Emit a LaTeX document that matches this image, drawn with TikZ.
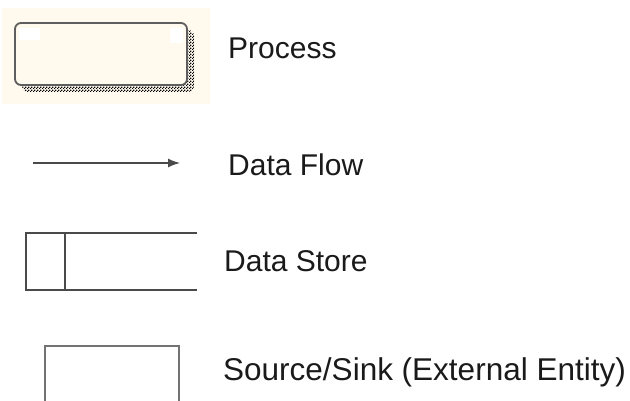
\documentclass[tikz,border=0pt]{standalone}
\usepackage{fontspec}
\setmainfont{Liberation Sans}
\usetikzlibrary{arrows.meta,shadows,patterns}
\definecolor{cream}{HTML}{FFF9EE}
\definecolor{boxedge}{HTML}{5E5E5E}
\definecolor{linegray}{HTML}{4A4A4A}
\definecolor{inkgray}{HTML}{1A1A1A}
% small checker used for the dithered shadow
\pgfdeclarepatternformonly{finecheck}{\pgfpoint{0pt}{0pt}}{\pgfpoint{3pt}{3pt}}{\pgfpoint{3pt}{3pt}}{%
  \pgfpathrectangle{\pgfpoint{0pt}{0pt}}{\pgfpoint{1.5pt}{1.5pt}}%
  \pgfpathrectangle{\pgfpoint{1.5pt}{1.5pt}}{\pgfpoint{1.5pt}{1.5pt}}%
  \pgfusepath{fill}}
\tikzset{
  legendtext/.style={anchor=base west, inner sep=0pt, text=inkgray,
    font=\fontsize{30}{35}\selectfont},
  processbox/.style={draw=boxedge, line width=1.8pt, rounded corners=6pt,
    fill=cream, minimum width=172pt, minimum height=62pt, inner sep=0pt,
    general shadow={shadow xshift=7pt, shadow yshift=-7pt,
      pattern=finecheck, pattern color=black}},
  storeline/.style={draw=linegray, line width=1.4pt},
  entitybox/.style={draw=black!55, line width=1.8pt},
  flowarrow/.style={draw=linegray, line width=1.3pt,
    -{Latex[length=12pt,width=9pt]}},
}
\begin{document}
\begin{tikzpicture}[x=1pt,y=-1pt]
  \useasboundingbox (0,0) rectangle (630,401);
  \clip (0,0) rectangle (630,401);

  % Process
  \fill[cream] (2,8) rectangle (210,104);
  \node[processbox] (proc) at (101,54) {};
  \fill[white] (19,28) rectangle (40,40);
  \fill[white] (170,28) rectangle (183,43);
  \node[legendtext] (proclbl) at (228,59) {Process};

  % Data flow
  \coordinate (flowa) at (33,163);
  \coordinate (flowb) at (180,163);
  \draw[flowarrow] (flowa) -- (flowb);
  \node[legendtext] (flowlbl) at (228,176) {Data Flow};

  % Data store (open on the right)
  \coordinate (st1) at (197,233);
  \coordinate (st2) at (26,233);
  \coordinate (st3) at (26,290);
  \coordinate (st4) at (197,290);
  \coordinate (sd1) at (65,233);
  \coordinate (sd2) at (65,290);
  \draw[storeline] (st1) -- (st2) -- (st3) -- (st4);
  \draw[storeline] (sd1) -- (sd2);
  \node[legendtext] (storelbl) at (224,272) {Data Store};

  % Source / sink
  \coordinate (en1) at (45,346);
  \coordinate (en2) at (179,430);
  \draw[entitybox] (en1) rectangle (en2);
  \node[legendtext, font=\fontsize{31.5}{36}\selectfont] (entitylbl) at (223,380)
    {Source/Sink (External Entity)};
\end{tikzpicture}
\end{document}
